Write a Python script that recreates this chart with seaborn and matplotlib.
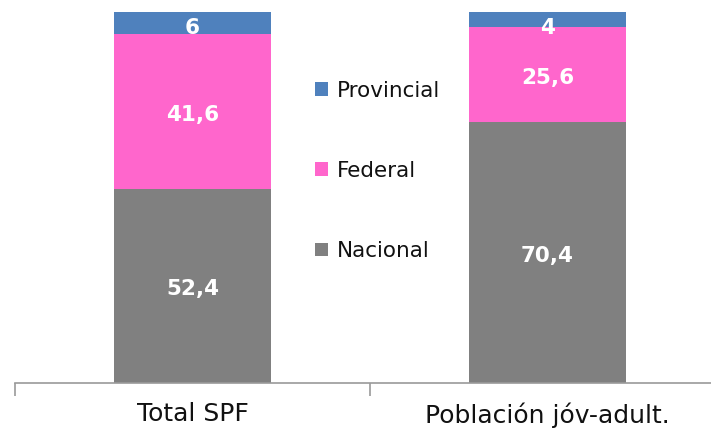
import pandas as pd
import seaborn as sns
from matplotlib import pyplot as plt
from matplotlib.ticker import FixedLocator

# chart data
categories = ["Total SPF", "Población jóv-adult."]
series = ["Nacional", "Federal", "Provincial"]
nacional = [52.4, 70.4]
federal = [41.6, 25.6]
provincial = [6, 4]
colors = {"Nacional": "#808080", "Federal": "#FF66CC", "Provincial": "#4F81BD"}

sns.set_style("white")
plt.rcParams["font.family"] = ["DejaVu Sans"]

values = {"Nacional": nacional, "Federal": federal, "Provincial": provincial}

# cumulative totals for stacking
rows = []
for i, cat in enumerate(categories):
    base = 0
    for s in series:
        v = values[s][i]
        rows.append({"Category": cat, "Series": s, "Value": v,
                     "Bottom": base, "Top": base + v})
        base += v
df = pd.DataFrame(rows)

fig = plt.figure(figsize=(7.11, 4.32), dpi=100)
ax = fig.add_axes([15 / 711, 49 / 432, 710 / 711, 371 / 432])

# draw tallest first so the lower segments sit on top
for s in reversed(series):
    sub = df[df["Series"] == s]
    sns.barplot(data=sub, x="Category", y="Top", color=colors[s], width=0.44,
                ax=ax, label=s, saturation=1, linewidth=0, order=categories)

for i, cat in enumerate(categories):
    sub = df[df["Category"] == cat]
    for _, r in sub.iterrows():
        # small segments: label pushed down like the original
        y = (r["Bottom"] + r["Top"]) / 2 - 0.9 if r["Value"] > 10 else r["Top"] - 4.3
        ax.text(i, y, "{:g}".format(r["Value"]).replace(".", ","),
                ha="center", va="center", color="white",
                fontsize=15.5, fontweight="bold")

ax.set_ylim(0, 100)
ax.set_xlim(-0.5, 1.5)
ax.set_xlabel("")
ax.set_ylabel("")
ax.set_yticks([])

for side in ["top", "right", "left"]:
    ax.spines[side].set_visible(False)
ax.spines["bottom"].set_color("#9A9A9A")
ax.spines["bottom"].set_linewidth(1.2)

ax.tick_params(axis="x", which="major", length=0, pad=14, labelsize=18, colors="#111111")
ax.xaxis.set_minor_locator(FixedLocator([-0.5, 0.5, 1.5]))
ax.tick_params(axis="x", which="minor", bottom=True, direction="out",
               length=9, width=1.2, color="#9A9A9A")

handles, labels = ax.get_legend_handles_labels()
order = ["Provincial", "Federal", "Nacional"]
hmap = dict(zip(labels, handles))
leg = ax.legend([hmap[k] for k in order], order, loc="center left",
                bbox_to_anchor=(291 / 710, 0.572), bbox_transform=ax.transAxes,
                frameon=False, fontsize=15.5, handlelength=0.6, handleheight=0.6,
                handletextpad=0.45, labelspacing=2.8, borderaxespad=0)
for t in leg.get_texts():
    t.set_color("#111111")

fig.savefig("out.png", dpi=100)
